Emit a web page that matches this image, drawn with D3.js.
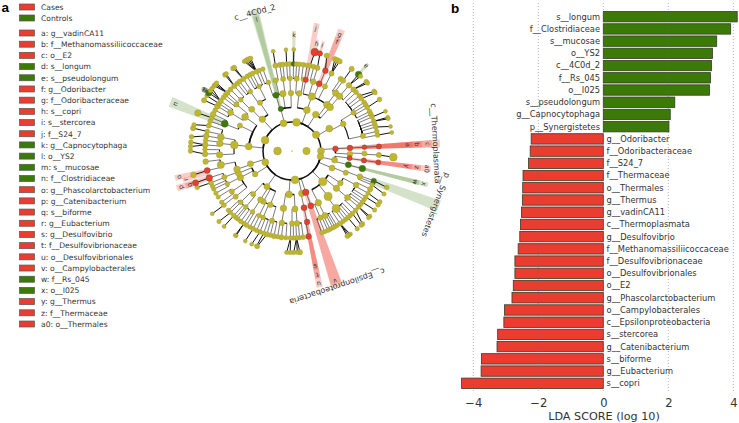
<!DOCTYPE html>
<html><head><meta charset="utf-8">
<script src="https://cdn.jsdelivr.net/npm/d3@7"></script>
<style>html,body{margin:0;padding:0;background:#fff}svg{display:block}text{font-family:"DejaVu Sans",sans-serif}</style>
</head><body><div id="c"></div><script>
// ---- panel b data
const barNames=["s__longum","f__Clostridiaceae","s__mucosae","o__YS2","c__4C0d_2","f__Rs_045","o__I025","s__pseudolongum","g__Capnocytophaga","p__Synergistetes","g__Odoribacter","f__Odoribacteraceae","f__S24_7","f__Thermaceae","o__Thermales","g__Thermus","g__vadinCA11","c__Thermoplasmata","g__Desulfovibrio","f__Methanomassiliicoccaceae","f__Desulfovibrionaceae","o__Desulfovibrionales","o__E2","g__Phascolarctobacterium","o__Campylobacterales","c__Epsilonproteobacteria","s__stercorea","g__Catenibacterium","s__biforme","g__Eubacterium","s__copri"];
const barValues=[4.12,3.92,3.49,3.36,3.33,3.30,3.27,2.20,2.06,2.02,-2.22,-2.25,-2.30,-2.47,-2.48,-2.49,-2.52,-2.55,-2.57,-2.62,-2.72,-2.72,-2.77,-2.81,-3.04,-3.06,-3.25,-3.27,-3.75,-3.76,-4.36];
const xTicks=[-4,-2,0,2,4];
// ---- legend data
const legendHead=[["Cases","Cases"],["Controls","Controls"]];
const legendKeys=[["a: g__vadinCA11","Cases"],["b: f__Methanomassiliicoccaceae","Cases"],["c: o__E2","Cases"],["d: s__longum","Controls"],["e: s__pseudolongum","Controls"],["f: g__Odoribacter","Cases"],["g: f__Odoribacteraceae","Cases"],["h: s__copri","Cases"],["i: s__stercorea","Cases"],["j: f__S24_7","Cases"],["k: g__Capnocytophaga","Controls"],["l: o__YS2","Controls"],["m: s__mucosae","Controls"],["n: f__Clostridiaceae","Controls"],["o: g__Phascolarctobacterium","Cases"],["p: g__Catenibacterium","Cases"],["q: s__biforme","Cases"],["r: g__Eubacterium","Cases"],["s: g__Desulfovibrio","Cases"],["t: f__Desulfovibrionaceae","Cases"],["u: o__Desulfovibrionales","Cases"],["v: o__Campylobacterales","Cases"],["w: f__Rs_045","Controls"],["x: o__I025","Controls"],["y: g__Thermus","Cases"],["z: f__Thermaceae","Cases"],["a0: o__Thermales","Cases"]];
// ---- cladogram: [clock angle, parent clock angle, relative abundance]
const ring1=[[270,270,3.6],[90,90,3.4]];
const ring2=[[174,174,3.6],[247,247,3.2],[292,292,3.6],[343,343,3.2],[9,9,3.6],[56,56,3.4],[90,90,3.2],[101,101,3]];
const ring3=[[167,174,3],[184,174,3.2],[215,247,2.8],[238,247,2.6],[253,247,2.8],[276,292,3.2],[317,292,3],[345,343,2.4],[20,9,3.2],[33,9,3],[59,56,3.2],[87,90,2.6],[102,101,2.8],[113,101,2.8],[135,101,3.8],[161.6,174,3]];
const ring4=[[153,135,3],[141.5,135,3.8],[130,135,3],[123.5,135,2.6],[161,161.6,2.8],[168,161.6,2.8],[177,184,2.8],[188.5,184,3],[202,215,2.6],[209.5,215,2.6],[213,215,2.6],[222,215,2.4],[242.8,238,3],[247.4,238,2.8],[251.7,253,3],[276,276,3.6],[296,276,2.4],[306,276,3.2],[316,317,2.8],[326.5,317,2.4],[344,345,2.8],[351,345,3],[359,345,2.6],[7,20,2.6],[20,20,3.4],[37,33,3.2],[41,33,3.2],[62,59,2.6],[87,87,2.6],[93,87,2.6],[97,102,2.4],[103.7,102,2.8],[112,113,2.4]];
const ring5=[[110.7,112,2.6],[118,123.5,2.6],[130,130,2.8],[142.5,141.5,3.8],[153,153,2.8],[157,153,2.4],[168,168,2.6],[176,177,2.6],[180,177,2.4],[188,188.5,2.6],[196,202,2.4],[203.5,209.5,2.2],[207,209.5,2.2],[213,213,2.2],[219.5,222,2.2],[225,222,2.2],[231,242.8,2.4],[236,242.8,2.4],[243,247.4,2.2],[248.8,251.7,2.4],[259,251.7,3.4],[267,276,3],[276,276,3],[281,276,3.2],[292,296,3.2],[302,306,2.8],[310,306,2.4],[315,316,2.2],[325,326.5,2.2],[333,326.5,2.2],[341,351,2.2],[347,351,2.4],[353,351,2.4],[358.4,359,2.2],[3.7,7,2.4],[9,7,2.2],[11,20,2.4],[17,20,2.6],[22,37,2.8],[27,37,2.4],[37,41,3],[41,41,3],[58,62,2.4],[78,62,2.4],[87,87,2.2],[92,93,2.4],[97.5,97,2.4],[104,103.7,3]];
const ring6=[[110,110.7,2.4],[111.5,110.7,2],[113,110.7,2],[116,118,2.4],[119,118,2],[122,118,2.2],[124,118,2],[126,130,2],[128,130,2],[130,130,2.2],[133,130,2],[136,142.5,2.2],[138,142.5,2],[140,142.5,2.2],[142,142.5,2],[144,142.5,2],[146.5,142.5,2.4],[149,153,2],[150.5,153,2],[152,153,2.2],[154,153,2],[155.7,153,2.2],[158,157,2],[160,157,2],[169,168,2.6],[172.6,176,2.2],[175,176,2],[177,176,2.2],[179,180,2],[181,180,2.2],[184,188,2],[187,188,2.4],[189.5,188,2],[192,196,2.4],[194.5,196,2],[196.8,196,2.4],[199,203.5,2],[201.6,203.5,2.2],[204,203.5,2],[206.6,207,2.2],[209,207,2],[211.5,213,2.2],[213.5,213,2],[216,219.5,2.2],[218.5,219.5,2],[220,219.5,2],[222,225,2.2],[225,225,2],[227,225,2],[231.5,231,2.2],[234,236,2],[238,236,2],[241,243,2],[244,243,2],[246,243,2],[248.6,248.8,2.4],[252,248.8,3],[257,259,2.8],[263,259,2.6],[268,267,2.6],[271,267,2.2],[274,276,2.6],[277,276,2.2],[280,281,2.6],[283,281,2.2],[287,281,2.4],[290,292,2.2],[292.5,292,2.2],[295,292,2.6],[298,302,2.2],[301,302,2.6],[303,302,2.2],[305,302,2.4],[308,310,2.2],[310,310,2.2],[312,310,2.4],[315,315,2.2],[318.4,315,2.4],[321,325,2.2],[323,325,2.2],[326,325,2.4],[329,333,2.2],[331,333,2.2],[333,333,2.2],[336,333,2.4],[338,341,2],[340.5,341,2],[349,347,2.4],[352,353,2.4],[354,353,2.2],[356.5,358.4,2.2],[358.5,358.4,2.2],[1,3.7,2.2],[3,3.7,2.2],[5,3.7,2.2],[7.5,9,2.2],[10,9,2.2],[12,11,2.2],[14.5,17,2.2],[17,17,2.4],[22.6,22,2.6],[27,27,2.4],[34,37,2.4],[36,37,2.4],[41,41,2.6],[45,41,2.4],[47.5,58,2.2],[50.7,58,2.2],[53,58,2.2],[56,58,2.2],[58,58,2.2],[60,58,2.2],[63,58,2.2],[65,78,2.2],[67,78,2.2],[70,78,2.2],[72,78,2.2],[74,78,2.2],[77,78,2.2],[79.5,78,2.2],[87,87,2.4],[92.6,92,2.4],[97.5,97.5,2.4]];
const ring7=[[111,110,2.2],[115,113,2],[120,119,2],[122,122,2.2],[125.5,126,2],[130,130,2],[131,130,2],[136,133,2.2],[137,136,2],[140,140,2],[145,146.5,2],[146,146.5,2],[147,146.5,2.2],[175.5,177,2.4],[177,177,2],[179,177,2],[181,181,2],[183,181,2],[200,196.8,2.2],[200.5,199,1.8],[203.4,201.6,1.8],[207.4,206.6,1.8],[213.4,213.5,1.8],[214,213.5,1.8],[222,222,1.8],[226,225,2],[231.8,231.5,1.8],[249,248.6,2.2],[251.7,252,2.8],[256.4,257,2.6],[270,268,2.2],[272.5,274,2.2],[275,274,2.2],[278,280,2.2],[283,283,2.4],[285,287,2],[292,292.5,3],[300,301,2.4],[303,303,2],[305,305,3],[306.5,305,2],[308,305,2],[310,312,2.2],[311,312,2],[312,312,2],[318.6,318.4,2.2],[319.6,318.4,2],[324.6,326,2.4],[325.5,326,2],[332,336,2],[333,336,2.2],[334,336,2.2],[335,336,2.2],[336,336,2],[349.3,349,1.8],[356.6,356.5,1.8],[1,1,1.8],[13,12,3.6],[16,17,2.4],[20,22.6,2.4],[25,27,2.4],[26.5,27,2.4],[28,27,2.4],[36,36,2.4],[41,41,3],[42.5,41,2],[47,45,2.2],[48,45,2],[54,50.7,2.2],[55,53,2],[59.5,60,2.2],[67,67,1.8],[70.6,70,1.8],[71.5,70,1.8],[76,74,1.8],[79.5,79.5,1.8],[93.5,92.6,3.6]];
const ringsOuter=[ring3,ring4,ring5,ring6,ring7];
// ---- biomarkers: name, ring, clock angle, class, label radius, wedge end radius, wedge half width (deg)
const biomarkers=[
["c__Thermoplasmata",3,87,"Cases",141,148,1.5],["c",4,87,"Cases",136,140,1.5],["b",5,87,"Cases",125,130,1.4],["a",6,87,"Cases",116,121,1.4],
["a0",4,97.5,"Cases",136,140,1.2],["z",5,97.5,"Cases",126,130,1.2],["y",6,97.5,"Cases",116,121,1.2],
["x",4,104,"Controls",136,140,1],["w",5,104,"Controls",127,131,1],
["p__Synergistetes",6,110.5,"Controls",151,157,2.1],
["c__Epsilonproteobacteria",3,161.6,"Cases",140,143,2.4],["v",4,161.6,"Cases",137,140,2.2],
["u",4,168.5,"Cases",135.5,139,1.3],["t",5,168.5,"Cases",126.5,130,1.2],["s",6,168.5,"Cases",117.5,121,1.2],
["o",6,257,"Cases",116,120,1.3],["p",6,252,"Cases",117,121,1.6],["q",7,251.7,"Cases",108,112,1.4],["r",6,255,"Cases",110,113,1],
["n",5,292,"Controls",126,131,2.3],["d",7,305,"Controls",107,110,.8],["m",7,305,"Controls",107,110,.8],
["c__4C0d_2",3,345,"Controls",141,146,1.7],["l",4,345,"Controls",136,140,1.2],
["k",6,1,"Controls",116,120,.8],
["j",5,11,"Cases",125,130,1.3],["h",7,13,"Cases",110,114,.7],["i",7,16,"Cases",110,114,.7],
["g",5,22.3,"Cases",126,131,1.6],["f",6,22.3,"Cases",118,122,1.4],
["e",7,41,"Controls",113,116,.8]];

const W=739,H=423;
const svg=d3.select("#c").append("svg").attr("width",W).attr("height",H);
const red="#ea3d30",green="#3b7a07",yellow="#c0b730",ink="#333";
const classColor=d3.scaleOrdinal().domain(["Cases","Controls"]).range([red,green]);

// legend
const gL=svg.append("g");
const legY=d3.scalePoint().domain(d3.range(27)).range([33,324]);
function leg(rows,yf){
  const g=gL.selectAll(null).data(rows).enter().append("g").attr("transform",(d,i)=>`translate(0,${yf(i)})`);
  g.append("rect").attr("x",19.5).attr("y",-3).attr("width",15).attr("height",6).attr("fill",d=>classColor(d[1])).attr("stroke","#555").attr("stroke-width",.7);
  g.append("text").attr("x",41).attr("y",2.8).attr("font-size",7.6).attr("fill",ink).text(d=>d[0]);
}
leg(legendHead,i=>7+i*11);
leg(legendKeys,legY);

// panel letters
svg.append("text").attr("x",1.5).attr("y",12).style("font-family","'Liberation Sans',sans-serif").attr("font-weight","bold").attr("font-size",13.5).text("a");
svg.append("text").attr("x",451).attr("y",12.5).style("font-family","'Liberation Sans',sans-serif").attr("font-weight","bold").attr("font-size",13.5).text("b");

// cladogram
const cx=292,cy=151;
const rad=d3.scaleLinear().domain([0,7]).range([0,101.5]);
const ang=d3.scaleLinear().domain([0,360]).range([0,2*Math.PI]);
const nodeR=d3.scaleLinear().domain([1.8,3.8]).range([2,4.1]);
const G=svg.append("g").attr("transform",`translate(${cx},${cy})`);
const pt=(a,r)=>d3.pointRadial(ang(a),r);
const wedge=d3.arc();
const gW=G.append("g"),gE=G.append("g"),gN=G.append("g"),gT=G.append("g");
biomarkers.forEach(b=>{
  gW.append("path").attr("d",wedge({innerRadius:rad(b[1]),outerRadius:b[5],startAngle:ang(b[2]-b[6]),endAngle:ang(b[2]+b[6])}))
    .attr("fill",classColor(b[3])).attr("fill-opacity",b[3]=="Cases"?.26:.22);
});
gE.append("path").attr("d",wedge({innerRadius:rad(2),outerRadius:rad(2),startAngle:0,endAngle:2*Math.PI})).attr("fill","none").attr("stroke","#111").attr("stroke-width",1.5);
const arcW=[1.5,1.5,1.1,.8,.7];
ringsOuter.forEach((rows,ri)=>{
  const k=ri+3;
  rows.forEach(d=>{
    const a=d[0];let p=d[1];
    if(Math.abs(a-p)>180)p+=a>p?360:-360;
    if(k==7){ // tips fan out of their parent bead
      const s=pt(d[1],rad(6)),e=pt(a,rad(7));
      gE.append("line").attr("x1",s[0]).attr("y1",s[1]).attr("x2",e[0]).attr("y2",e[1]).attr("stroke","#111").attr("stroke-width",1);
      return;
    }
    gE.append("path").attr("d",wedge({innerRadius:rad(k-1),outerRadius:rad(k-1),startAngle:ang(Math.min(a,p)),endAngle:ang(Math.max(a,p))})).attr("fill","none").attr("stroke","#111").attr("stroke-width",arcW[ri]);
    const s=pt(a,rad(k-1)),e=pt(a,rad(k));
    gE.append("line").attr("x1",s[0]).attr("y1",s[1]).attr("x2",e[0]).attr("y2",e[1]).attr("stroke","#222").attr("stroke-width",.6);
  });
});
[ring1,ring2,...ringsOuter].forEach((rows,ri)=>{
  const k=ri+1;
  rows.forEach(d=>{
    const c=pt(d[0],rad(k));
    let hit=null;
    biomarkers.forEach(b=>{if(b[1]==k&&Math.abs(b[2]-d[0])<=1.2)hit=b[3];});
    gN.append("circle").attr("cx",c[0]).attr("cy",c[1]).attr("r",nodeR(d[2])).attr("fill",hit?classColor(hit):yellow).attr("stroke",hit?"#553":"#9c9838").attr("stroke-width",.4);
  });
});
gN.append("circle").attr("r",.8).attr("fill",yellow);
// labels, tangential
biomarkers.forEach(b=>{
  const c=pt(b[2],b[4]);
  gT.append("text").attr("transform",`translate(${c[0]},${c[1]}) rotate(${b[2]})`)
    .attr("text-anchor","middle").attr("dy",b[0].length>2?"0":"2.2").attr("font-size",b[0].length>2?8:6.4).attr("fill",ink).text(b[0]);
});

// bars
const x=d3.scaleLinear().domain([-4,4]).range([473.3,733.3]);
const y=d3.scaleBand().domain(barNames).range([10.6,389.4]).paddingInner(.15).paddingOuter(.075);
const gB=svg.append("g");
gB.selectAll("rect").data(barNames).enter().append("rect")
  .attr("x",(d,i)=>x(Math.min(0,barValues[i]))).attr("width",(d,i)=>Math.abs(x(barValues[i])-x(0)))
  .attr("y",d=>y(d)).attr("height",y.bandwidth())
  .attr("fill",(d,i)=>barValues[i]>0?green:red).attr("stroke","#3a3a2c").attr("stroke-width",.8);
svg.append("g").selectAll("line").data(xTicks).enter().append("line")
  .attr("x1",d=>x(d)).attr("x2",d=>x(d)).attr("y1",3).attr("y2",393)
  .attr("stroke","#666").attr("stroke-opacity",.7).attr("stroke-width",.7).attr("stroke-dasharray","1,2");
gB.selectAll("text").data(barNames).enter().append("text")
  .attr("x",(d,i)=>barValues[i]>0?x(0)-3.3:x(0)+3.3)
  .attr("y",d=>y(d)+y.bandwidth()/2).attr("dy","0.35em")
  .attr("text-anchor",(d,i)=>barValues[i]>0?"end":"start").attr("font-size",8.3).attr("fill",ink).text(d=>d);
const ax=svg.append("g").attr("transform","translate(0,393)").call(d3.axisBottom(x).tickValues(xTicks).tickSize(0).tickPadding(6));
ax.select(".domain").remove();
ax.selectAll("text").attr("font-size",11.5).attr("fill",ink).style("font-family","'DejaVu Sans',sans-serif");
svg.append("text").attr("x",604).attr("y",420).attr("text-anchor","middle").attr("font-size",11.2).attr("fill",ink).text("LDA SCORE (log 10)");
</script></body></html>
